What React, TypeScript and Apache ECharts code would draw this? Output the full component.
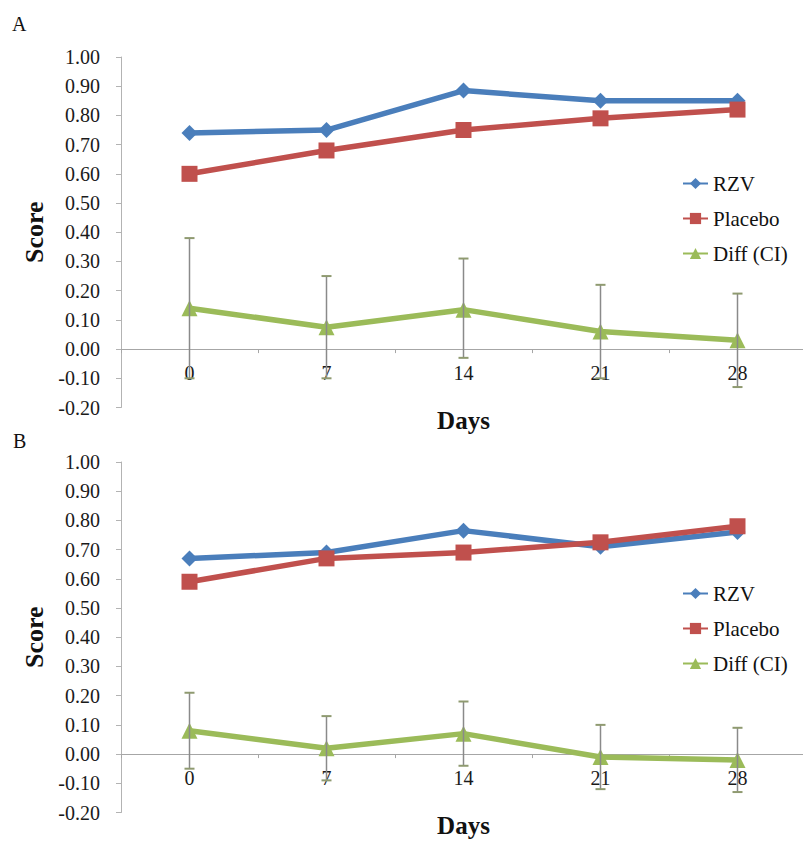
import React, { useEffect, useRef } from "react";
import * as echarts from "echarts";

// Study days on the x axis
const days = ["0", "7", "14", "21", "28"];
const yTicks = { min: -0.2, max: 1.0, step: 0.1 };

// Panel A
const rzvA = [0.74, 0.75, 0.885, 0.85, 0.85];
const placeboA = [0.6, 0.68, 0.75, 0.79, 0.82];
const diffA = [0.14, 0.075, 0.135, 0.06, 0.03];
const diffLowA = [-0.1, -0.1, -0.03, -0.1, -0.13];
const diffHighA = [0.38, 0.25, 0.31, 0.22, 0.19];

// Panel B
const rzvB = [0.67, 0.69, 0.765, 0.71, 0.76];
const placeboB = [0.59, 0.67, 0.69, 0.725, 0.78];
const diffB = [0.08, 0.02, 0.07, -0.01, -0.02];
const diffLowB = [-0.05, -0.09, -0.04, -0.12, -0.13];
const diffHighB = [0.21, 0.13, 0.18, 0.1, 0.09];

const legendNames = ["RZV", "Placebo", "Diff (CI)"];

const BLUE = "#4a7ebb";
const RED = "#c0504d";
const GREEN = "#9bbb59";
const SERIF = "Liberation Serif";

const PLOT_H = 350.5;
// the category axis sits on the y = 0 line of each panel
const zeroOffset = -PLOT_H * ((0 - yTicks.min) / (yTicks.max - yTicks.min));

function makeAxes(idx: number) {
  const xAxis = {
    type: "category",
    gridIndex: idx,
    data: days,
    boundaryGap: true,
    position: "bottom",
    offset: zeroOffset,
    axisLine: { onZero: false, lineStyle: { color: "#a6a6a6", width: 1 } },
    axisTick: { show: true, length: 4, lineStyle: { color: "#a6a6a6" } },
    axisLabel: { fontFamily: SERIF, fontSize: 20, color: "#1a1a1a", margin: 14 },
    name: "Days",
    nameLocation: "middle",
    nameGap: 59,
    nameTextStyle: { fontFamily: SERIF, fontSize: 25, fontWeight: "bold", color: "#111", lineHeight: 25 },
    splitLine: { show: false },
  };
  const yAxis = {
    type: "value",
    gridIndex: idx,
    min: yTicks.min,
    max: yTicks.max,
    interval: yTicks.step,
    axisLine: { show: true, lineStyle: { color: "#b3b3b3", width: 1 } },
    axisTick: { show: true, length: 5, lineStyle: { color: "#b3b3b3" } },
    axisLabel: {
      fontFamily: SERIF,
      fontSize: 20,
      color: "#1a1a1a",
      margin: 21,
      formatter: (v: number) => v.toFixed(2),
    },
    splitLine: { show: false },
    name: "Score",
    nameLocation: "middle",
    nameGap: 74,
    nameTextStyle: { fontFamily: SERIF, fontSize: 26, fontWeight: "bold", color: "#111" },
  };
  return { xAxis, yAxis };
}

function errorBars(idx: number, low: number[], high: number[]) {
  return {
    type: "custom",
    name: "CI",
    xAxisIndex: idx,
    yAxisIndex: idx,
    z: 5,
    silent: true,
    data: days.map((_, i) => [i, low[i], high[i]]),
    encode: { x: 0, y: [1, 2] },
    renderItem: (_params: any, api: any) => {
      const i = api.value(0);
      const lo = api.coord([i, api.value(1)]);
      const hi = api.coord([i, api.value(2)]);
      const half = 5;
      const style = { stroke: "#8a8a8a", lineWidth: 1.5 };
      const cap = { stroke: "#8f9a70", lineWidth: 2 };
      return {
        type: "group",
        children: [
          { type: "line", shape: { x1: lo[0], y1: lo[1], x2: hi[0], y2: hi[1] }, style },
          { type: "line", shape: { x1: hi[0] - half, y1: hi[1], x2: hi[0] + half, y2: hi[1] }, style: cap },
          { type: "line", shape: { x1: lo[0] - half, y1: lo[1], x2: lo[0] + half, y2: lo[1] }, style: cap },
        ],
      };
    },
  };
}

function lineSeries(idx: number, name: string, data: number[], color: string, symbol: string, size: number) {
  return {
    type: "line",
    name,
    xAxisIndex: idx,
    yAxisIndex: idx,
    data,
    symbol,
    symbolSize: size,
    lineStyle: { color, width: 5.5 },
    itemStyle: { color },
    z: 3,
  };
}

function legendAt(top: number) {
  return {
    data: legendNames,
    orient: "vertical",
    left: 682,
    top,
    padding: 0,
    itemWidth: 25,
    itemHeight: 14,
    itemGap: 14,
    selectedMode: false,
    textStyle: { fontFamily: SERIF, fontSize: 21, color: "#111", lineHeight: 20 },
  };
}

export default function App() {
  const ref = useRef<HTMLDivElement>(null);

  useEffect(() => {
    if (!ref.current) return;
    const chart = echarts.init(ref.current, undefined, { renderer: "svg" });
    const a = makeAxes(0);
    const b = makeAxes(1);
    chart.setOption({
      animation: false,
      backgroundColor: "#ffffff",
      textStyle: { fontFamily: SERIF },
      grid: [
        { left: 121, top: 57, width: 685, height: PLOT_H, containLabel: false, outerBoundsMode: "none" },
        { left: 121, top: 462, width: 685, height: PLOT_H, containLabel: false, outerBoundsMode: "none" },
      ],
      xAxis: [a.xAxis, b.xAxis],
      yAxis: [a.yAxis, b.yAxis],
      legend: [legendAt(173), legendAt(583)],
      graphic: [
        {
          type: "text",
          left: 12,
          top: 14,
          style: { text: "A", fontFamily: SERIF, fontSize: 20, fill: "#111" },
        },
        {
          type: "text",
          left: 13,
          top: 431,
          style: { text: "B", fontFamily: SERIF, fontSize: 20, fill: "#111" },
        },
      ],
      series: [
        lineSeries(0, "RZV", rzvA, BLUE, "diamond", 16),
        lineSeries(0, "Placebo", placeboA, RED, "rect", 16),
        lineSeries(0, "Diff (CI)", diffA, GREEN, "triangle", 16),
        errorBars(0, diffLowA, diffHighA),
        lineSeries(1, "RZV", rzvB, BLUE, "diamond", 16),
        lineSeries(1, "Placebo", placeboB, RED, "rect", 16),
        lineSeries(1, "Diff (CI)", diffB, GREEN, "triangle", 16),
        errorBars(1, diffLowB, diffHighB),
      ],
    });
    return () => chart.dispose();
  }, []);

  return (
    <div
      ref={ref}
      style={{ position: "absolute", left: 0, top: 0, width: 803, height: 841, background: "#fff" }}
    />
  );
}
